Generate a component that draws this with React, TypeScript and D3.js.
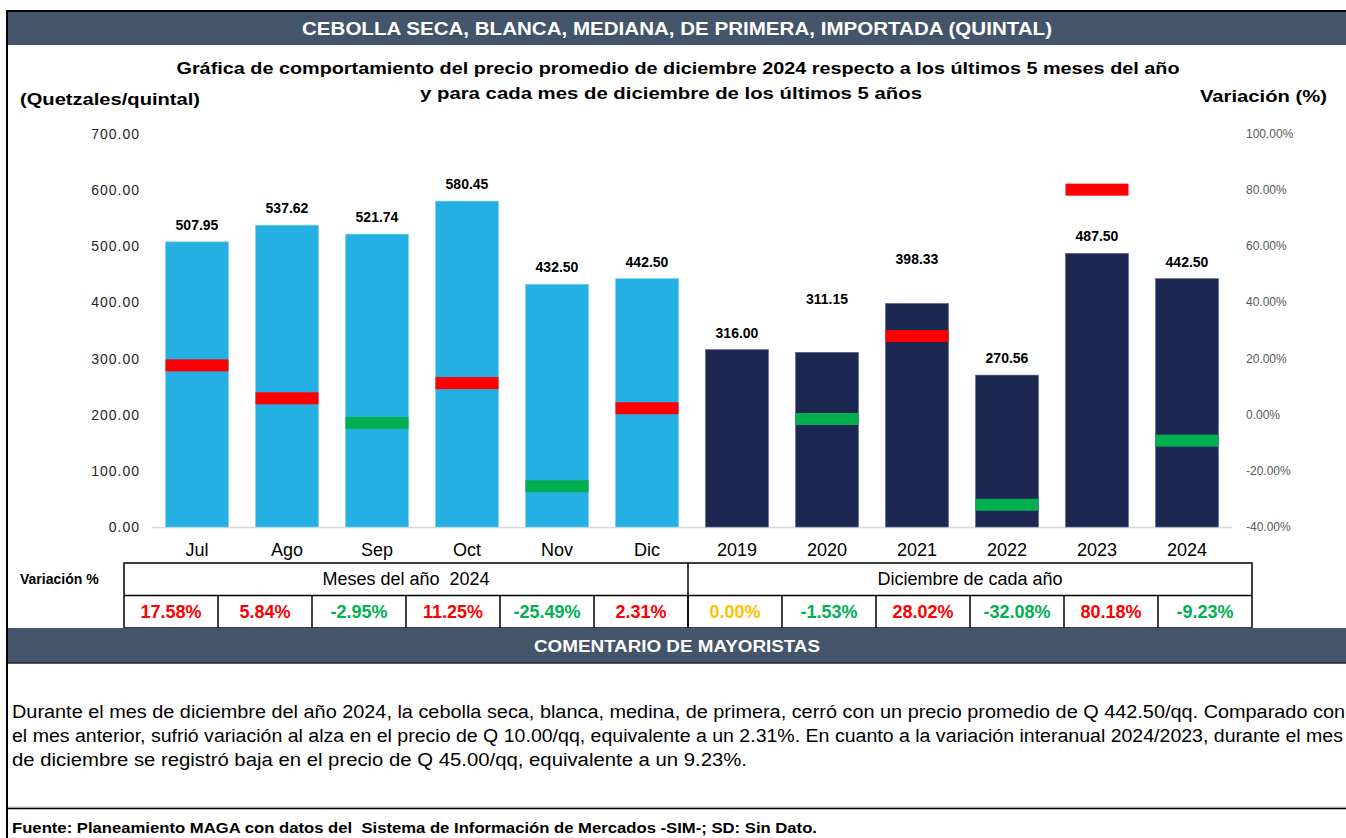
import React from 'react';
import * as d3 from 'd3';

// chart data
const categories = ['Jul', 'Ago', 'Sep', 'Oct', 'Nov', 'Dic', '2019', '2020', '2021', '2022', '2023', '2024'];
const prices = [507.95, 537.62, 521.74, 580.45, 432.5, 442.5, 316.0, 311.15, 398.33, 270.56, 487.5, 442.5];
const variations = [17.58, 5.84, -2.95, 11.25, -25.49, 2.31, 0.0, -1.53, 28.02, -32.08, 80.18, -9.23];
const groups = ['Meses del año  2024', 'Diciembre de cada año'];
const leftTicks = [0, 100, 200, 300, 400, 500, 600, 700];
const rightTicks = [-40, -20, 0, 20, 40, 60, 80, 100];

const commentLines = [
    'Durante el mes de diciembre del año 2024, la cebolla seca, blanca, medina, de primera, cerró con un precio promedio de Q 442.50/qq. Comparado con',
    'el mes anterior, sufrió variación al alza en el precio de Q 10.00/qq, equivalente a un 2.31%. En cuanto a la variación interanual 2024/2023, durante el mes',
    'de diciembre se registró baja en el precio de Q 45.00/qq, equivalente a un 9.23%.'
];

const FONT = '"Liberation Sans", Arial, sans-serif';
const NARROW = '"Liberation Sans Narrow", "Liberation Sans", Arial, sans-serif';
const SLATE = '#44546A';

const varColor = (v: number) => (v > 0 ? '#FF0000' : v < 0 ? '#00B050' : '#FFC000');

export default function App() {
    const W = 1346;
    const H = 838;

    const x = d3.scaleBand<string>()
        .domain(categories)
        .range([152, 1232])
        .paddingInner(0.3)
        .paddingOuter(0.15);

    const yLeft = d3.scaleLinear().domain([0, 700]).range([527, 134]);
    const yRight = d3.scaleLinear().domain([-40, 100]).range([527, 134]);

    // table columns share the categories
    const xCell = d3.scaleBand<string>().domain(categories).range([124, 1252]);

    // Excel had a few labels nudged up by hand
    const labelLift: Record<string, number> = { '2020': 53, '2021': 44 };

    const markerH = 12;

    return (
        <div style={{ width: W, height: H }}>
            <style>{`body{margin:0}`}</style>
            <svg width={W} height={H} style={{ display: 'block', fontFamily: FONT }}>
                <rect x={0} y={0} width={W} height={H} fill="#fff" />

                {/* frame */}
                <rect x={6} y={10} width={W - 6} height={2} fill="#000" />
                <rect x={6} y={10} width={2} height={H - 10} fill="#000" />

                {/* title bar */}
                <rect x={8} y={12} width={W - 8} height={33} fill={SLATE} />
                <text x={677} y={35} textAnchor="middle" fill="#fff" fontSize={18} fontWeight="bold"
                    textLength={750} lengthAdjust="spacingAndGlyphs">
                    CEBOLLA SECA, BLANCA, MEDIANA, DE PRIMERA, IMPORTADA (QUINTAL)
                </text>

                <text x={678} y={74} textAnchor="middle" fontSize={17} fontWeight="bold" fill="#000"
                    textLength={1003} lengthAdjust="spacingAndGlyphs">
                    Gráfica de comportamiento del precio promedio de diciembre 2024 respecto a los últimos 5 meses del año
                </text>
                <text x={671} y={99} textAnchor="middle" fontSize={17} fontWeight="bold" fill="#000"
                    textLength={502} lengthAdjust="spacingAndGlyphs">
                    y para cada mes de diciembre de los últimos 5 años
                </text>
                <text x={20} y={105} fontSize={17} fontWeight="bold" fill="#000"
                    textLength={180} lengthAdjust="spacingAndGlyphs">
                    (Quetzales/quintal)
                </text>
                <text x={1327} y={102} textAnchor="end" fontSize={17} fontWeight="bold" fill="#000"
                    textLength={127} lengthAdjust="spacingAndGlyphs">
                    Variación (%)
                </text>

                {/* left axis labels */}
                {leftTicks.map(t => (
                    <text key={`l${t}`} x={140} y={yLeft(t) + 5} textAnchor="end" fontSize={14}
                        fill="#262626" letterSpacing={1}>
                        {t.toFixed(2)}
                    </text>
                ))}

                {/* right axis labels */}
                {rightTicks.map(t => (
                    <text key={`r${t}`} x={1246} y={yRight(t) + 4} fontSize={12} fill="#595959">
                        {t.toFixed(2)}%
                    </text>
                ))}

                {/* baseline */}
                <line x1={152} x2={1232} y1={527.5} y2={527.5} stroke="#D9D9D9" strokeWidth={1.5} />

                {/* bars */}
                {categories.map((c, i) => (
                    <rect
                        key={`b${c}`}
                        x={x(c)}
                        y={yLeft(prices[i])}
                        width={x.bandwidth()}
                        height={yLeft(0) - yLeft(prices[i])}
                        fill={i < 6 ? '#25B0E4' : '#1C2852'}
                        stroke={i < 6 ? '#7FD0F0' : '#5A6690'}
                        strokeWidth={0.6}
                    />
                ))}

                {/* variation markers */}
                {categories.map((c, i) => variations[i] === 0 ? null : (
                    <rect
                        key={`m${c}`}
                        x={x(c)}
                        y={yRight(variations[i]) - markerH / 2}
                        width={x.bandwidth()}
                        height={markerH}
                        fill={varColor(variations[i])}
                    />
                ))}

                {/* value labels */}
                {categories.map((c, i) => (
                    <text
                        key={`v${c}`}
                        x={(x(c) ?? 0) + x.bandwidth() / 2}
                        y={yLeft(prices[i]) - (labelLift[c] ?? 17) + 5}
                        textAnchor="middle"
                        fontSize={14}
                        fontWeight="bold"
                        fill="#000"
                        stroke="#fff"
                        strokeWidth={3}
                        paintOrder="stroke"
                    >
                        {prices[i].toFixed(2)}
                    </text>
                ))}

                {/* category labels */}
                {categories.map(c => (
                    <text key={`c${c}`} x={(x(c) ?? 0) + x.bandwidth() / 2} y={556} textAnchor="middle"
                        fontSize={18} fill="#000">
                        {c}
                    </text>
                ))}

                {/* variation table */}
                <text x={20} y={584} fontSize={14} fontWeight="bold" fill="#000">Variación %</text>
                <rect x={124} y={563} width={1128} height={65} fill="none" stroke="#000" strokeWidth={1.5} />
                <line x1={124} x2={1252} y1={595.5} y2={595.5} stroke="#000" strokeWidth={1.5} />
                <line x1={688} x2={688} y1={563} y2={628} stroke="#000" strokeWidth={1.5} />
                {groups.map((g, gi) => (
                    <text key={g} x={124 + 282 + gi * 564} y={585} textAnchor="middle" fontSize={18} fill="#000"
                        style={{ whiteSpace: 'pre' }}>
                        {g}
                    </text>
                ))}
                {categories.map((c, i) => (
                    <g key={`t${c}`}>
                        {i > 0 && (
                            <line x1={xCell(c)} x2={xCell(c)} y1={595} y2={628} stroke="#000" strokeWidth={1.5} />
                        )}
                        <text x={(xCell(c) ?? 0) + xCell.bandwidth() / 2} y={618} textAnchor="middle"
                            fontSize={18} fontWeight="bold" fill={varColor(variations[i])}>
                            {variations[i].toFixed(2)}%
                        </text>
                    </g>
                ))}

                {/* comment bar */}
                <rect x={8} y={628} width={W - 8} height={35} fill={SLATE} />
                <line x1={8} x2={W} y1={663} y2={663} stroke="#222" strokeWidth={1.5} />
                <text x={677} y={652} textAnchor="middle" fill="#fff" fontSize={16} fontWeight="bold"
                    textLength={286} lengthAdjust="spacingAndGlyphs">
                    COMENTARIO DE MAYORISTAS
                </text>

                {commentLines.map((l, i) => (
                    <text key={`cm${i}`} x={12} y={718 + i * 24} fontSize={18} fill="#000" fontFamily={NARROW}
                        textLength={[1333, 1331, 735][i]} lengthAdjust="spacingAndGlyphs">
                        {l}
                    </text>
                ))}

                {/* footer */}
                <line x1={8} x2={W} y1={807} y2={807} stroke="#BFBFBF" strokeWidth={1} />
                <line x1={8} x2={W} y1={808.5} y2={808.5} stroke="#000" strokeWidth={1.5} />
                <text x={12} y={833} fontSize={15} fontWeight="bold" fill="#000" fontFamily={NARROW}
                    textLength={805} lengthAdjust="spacingAndGlyphs" style={{ whiteSpace: 'pre' }}>
                    Fuente: Planeamiento MAGA con datos del  Sistema de Información de Mercados -SIM-; SD: Sin Dato.
                </text>
            </svg>
        </div>
    );
}
